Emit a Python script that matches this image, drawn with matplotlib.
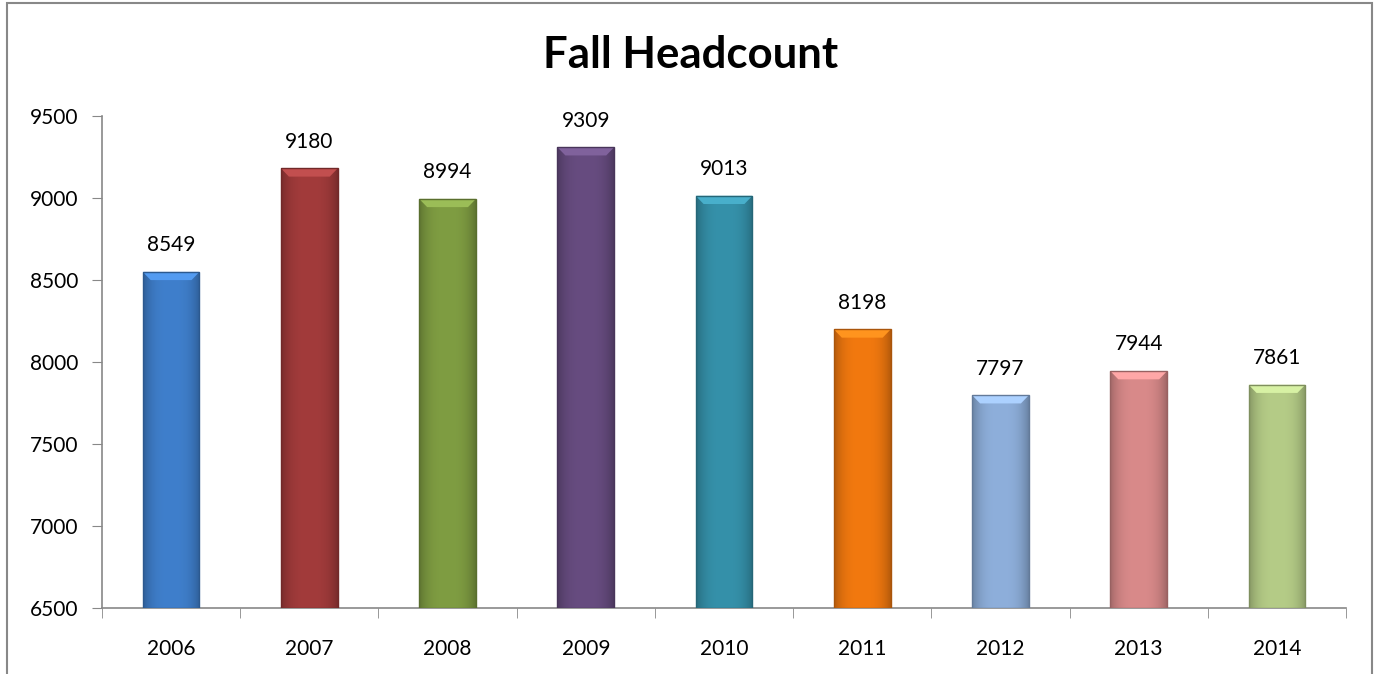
import matplotlib
matplotlib.use("Agg")
import matplotlib.pyplot as plt
import numpy as np
from matplotlib.colors import to_rgb
from matplotlib.patches import Rectangle, Polygon

# Fall headcount by year
years = ["2006", "2007", "2008", "2009", "2010", "2011", "2012", "2013", "2014"]
headcount = [8549, 9180, 8994, 9309, 9013, 8198, 7797, 7944, 7861]
bar_colors = ["#3F7FCC", "#A23B3B", "#7F9D42", "#674C80", "#3591AA",
              "#F2790F", "#8EAFDB", "#D98A8A", "#B5CC87"]

plt.rcParams['font.family'] = ['Lato', 'DejaVu Sans']

fig = plt.figure(figsize=(13.82, 6.74), dpi=100)
ax = fig.add_axes([0.0738, 0.098, 0.9002, 0.730])

x = np.arange(len(years))
bars = ax.bar(x, np.array(headcount) - 6500, bottom=6500, width=0.41,
              color=bar_colors, edgecolor="none", zorder=2)

# fake the bevel look with a shaded image clipped into each bar
for b, c in zip(bars, bar_colors):
    bx, by = b.get_x(), b.get_y()
    bw, bh = b.get_width(), b.get_height()
    base = np.array(to_rgb(c))
    t = np.linspace(-1, 1, 60)
    shade = 1 - 0.25 * np.abs(t) ** 3
    img = base[None, None, :] * shade[None, :, None]
    img = np.repeat(img, 2, axis=0)
    im = ax.imshow(np.clip(img, 0, 1), extent=[bx, bx + bw, by, by + bh],
                   aspect="auto", zorder=3, interpolation="bilinear")
    im.set_clip_path(b)
    # lighter bevel at the top, like the original
    cap = 50
    inset = bw * 0.14
    top = by + bh
    ax.add_patch(Polygon([(bx, top), (bx + bw, top), (bx + bw - inset, top - cap),
                          (bx + inset, top - cap)],
                         color=np.clip(base * 1.12 + 0.05, 0, 1), lw=0, zorder=3.5))
    ax.add_patch(Rectangle((bx, by), bw, bh, fill=False,
                           edgecolor=base * 0.7, lw=1.0, zorder=4))
    ax.annotate(str(int(top)), (bx + bw / 2, top), xytext=(0, 12),
                textcoords="offset points", ha="center", va="bottom",
                fontsize=15, color="black")

ax.set_xlim(-0.5, len(years) - 0.5)
ax.set_ylim(6500, 9500)
ax.set_yticks(np.arange(6500, 9501, 500))
ax.set_xticks(x)
ax.set_xticklabels(years)
ax.set_xticks(np.arange(-0.5, len(years), 1), minor=True)
ax.tick_params(axis="x", which="major", length=0, pad=22, labelsize=15)
ax.tick_params(axis="x", which="minor", length=7, color="#888888", direction="out")
ax.tick_params(axis="y", length=7, color="#888888", direction="out", pad=10, labelsize=15)

for s in ["top", "right"]:
    ax.spines[s].set_visible(False)
for s in ["left", "bottom"]:
    ax.spines[s].set_color("#888888")
    ax.spines[s].set_linewidth(1.2)

fig.text(0.5, 0.918, "Fall Headcount", ha="center", va="center",
         fontsize=31.5, fontweight="bold")

# outer chart frame
fig.add_artist(Rectangle((7 / 1382, -0.05), 1365 / 1382, 1.05 - 3 / 674,
                         transform=fig.transFigure, fill=False,
                         edgecolor="#888888", lw=1.5))

fig.savefig("out.png", dpi=100)
